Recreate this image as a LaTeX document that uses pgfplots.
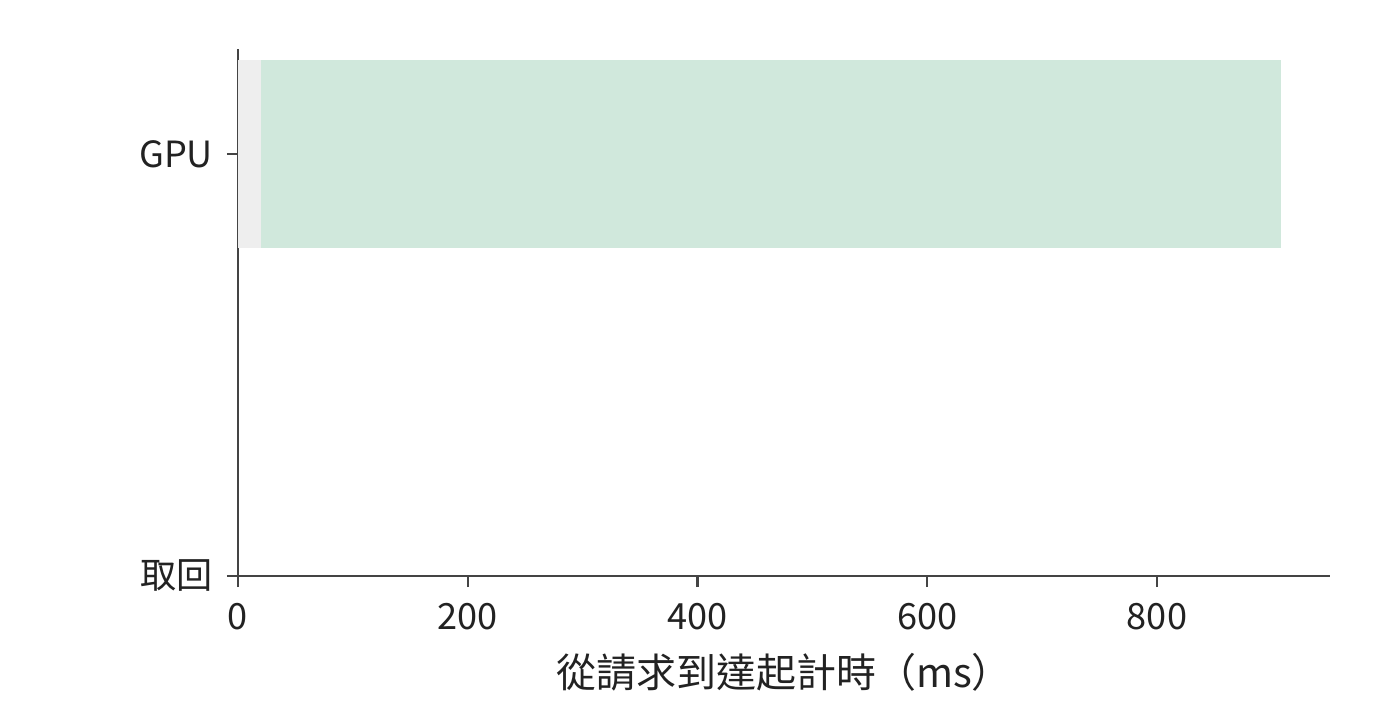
\documentclass[border=0pt]{standalone}
\usepackage{fontspec}
\setmainfont{Noto Sans CJK TC}
\usepackage{pgfplots}
\pgfplotsset{compat=1.18}
\definecolor{gpugreen}{HTML}{D0E8DC}
\definecolor{waitgrey}{HTML}{EEEEEE}
\definecolor{axisgrey}{HTML}{444444}
\definecolor{textgrey}{HTML}{222222}

\begin{document}
\begin{tikzpicture}[x=1pt,y=1pt]
\path[use as bounding box] (0,0) rectangle (504,259.2);
\begin{axis}[
  at={(85.68pt,51.84pt)}, anchor=south west,
  scale only axis, width=393.12pt, height=189.72pt,
  xbar stacked, bar width=0.447,
  xmin=0, xmax=950.6, ymin=0, ymax=1.249,
  xtick={0,200,400,600,800},
  ytick={0,1}, yticklabels={取回,GPU},
  axis x line*=bottom, axis y line*=left,
  x axis line style={-}, y axis line style={-},
  axis line style={axisgrey, line width=0.8pt},
  tick align=outside, major tick length=4pt,
  tick style={axisgrey, line width=0.8pt},
  /pgf/number format/assume math mode=true,
  ticklabel style={font=\fontsize{13}{15.6}\selectfont, text=textgrey},
  xticklabel style={yshift=-2.2pt},
  yticklabel style={xshift=-1.5pt},
  xlabel={從請求到達起計時（ms）},
  label style={font=\fontsize{14.4}{17}\selectfont, text=textgrey},
  xlabel style={yshift=-1.6pt},
  clip=false,
]
\addplot[fill=waitgrey, draw=none] coordinates {(20,1) (0,0)};
\addplot[fill=gpugreen, draw=none] coordinates {(888,1) (0,0)};
\end{axis}
\end{tikzpicture}
\end{document}
